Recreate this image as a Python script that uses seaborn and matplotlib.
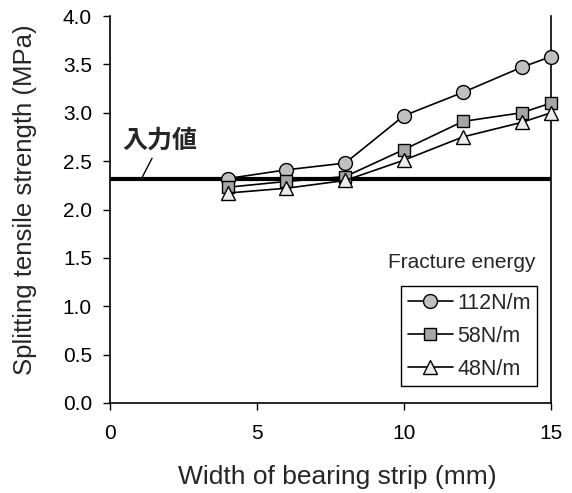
import matplotlib
matplotlib.use("Agg")
import matplotlib.pyplot as plt
import seaborn as sns
import pandas as pd

widths = [4, 6, 8, 10, 12, 14, 15]
s112 = [2.32, 2.41, 2.48, 2.97, 3.21, 3.47, 3.58]
s58 = [2.23, 2.29, 2.34, 2.62, 2.91, 3.00, 3.10]
s48 = [2.17, 2.22, 2.30, 2.51, 2.75, 2.90, 3.00]
series_names = ["112N/m", "58N/m", "48N/m"]
input_value = 2.32
x_ticks = [0, 5, 10, 15]
y_ticks = [0.0, 0.5, 1.0, 1.5, 2.0, 2.5, 3.0, 3.5, 4.0]

sns.set_theme(style="white")
plt.rcParams['font.family'] = ['Liberation Sans', 'Noto Sans CJK JP', 'DejaVu Sans']

fig = plt.figure(figsize=(5.72, 4.93), dpi=100)
ax = fig.add_axes([110/572, 1-403/493, (551-110)/572, (403-16)/493])

ax.plot([0, 15], [input_value, input_value], color="black", lw=3, zorder=1)

styles = [("o", "#c0c0c0", 10), ("s", "#a6a6a6", 9), ("^", "#ececec", 10)]
for name, vals, (m, c, ms) in zip(series_names, [s112, s58, s48], styles):
    df = pd.DataFrame({"w": widths, "v": vals})
    sns.lineplot(data=df, x="w", y="v", ax=ax, color="black", lw=1.2,
                 marker=m, markersize=ms, markerfacecolor=c,
                 markeredgecolor="black", markeredgewidth=1.0, label=name,
                 zorder=3, clip_on=False)

ax.set_xlim(0, 15)
ax.set_ylim(0, 4.0)
ax.set_xticks(x_ticks)
ax.set_yticks(y_ticks)
ax.set_yticklabels([f"{v:.1f}" for v in y_ticks])
ax.tick_params(axis="both", direction="out", length=5, width=1, colors="black",
               labelsize=15, left=True, bottom=True)
ax.tick_params(axis="y", pad=8)
ax.tick_params(axis="x", pad=10)
for side in ["left", "bottom", "right"]:
    ax.spines[side].set_color("black")
    ax.spines[side].set_linewidth(1.2)
ax.spines["top"].set_visible(False)

ax.set_xlabel("Width of bearing strip (mm)", fontsize=19)
ax.set_ylabel("Splitting tensile strength (MPa)", fontsize=18.5)
ax.xaxis.set_label_coords(0.515, -0.160)
ax.yaxis.set_label_coords(-0.166, 0.525)

ax.text(0.42, 2.71, "入力値", fontsize=18, fontweight="bold",
        family=['Noto Sans CJK JP', 'DejaVu Sans'], ha="left", va="center")
ax.plot([1.43, 1.09], [2.53, 2.33], color="black", lw=1)

leg = ax.legend(loc="lower right", bbox_to_anchor=((537-110)/441, (403-386)/387),
                borderaxespad=0, frameon=True,
                fancybox=False, edgecolor="black", fontsize=15.5,
                handlelength=2.1, handletextpad=0.2, borderpad=0.3, labelspacing=0.55)
leg.get_frame().set_linewidth(1.0)
leg.get_frame().set_alpha(1)

ax.text((462-110)/441, (403-262)/387, "Fracture energy", transform=ax.transAxes,
        fontsize=15, ha="center", va="center")

fig.savefig("out.png", dpi=100)
